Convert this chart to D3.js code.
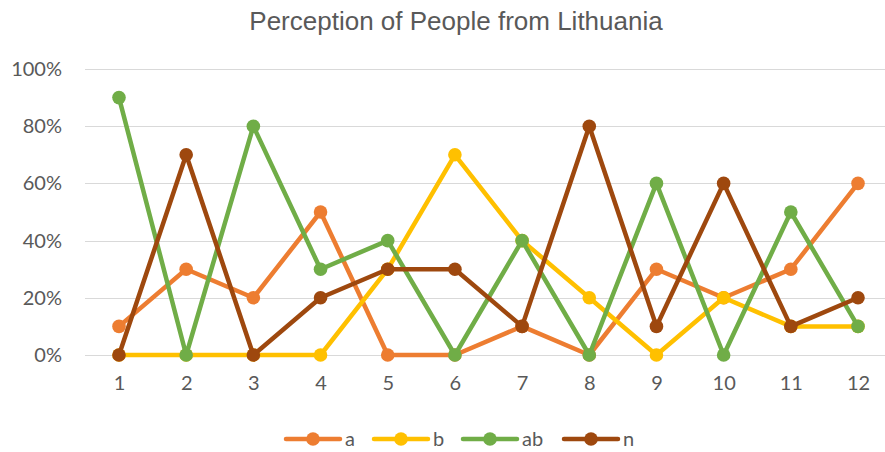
<!DOCTYPE html>
<html>
<head>
<meta charset="utf-8">
<script src="https://cdn.jsdelivr.net/npm/d3@7"></script>
<style>
  body { margin: 0; background: #fff; }
  svg { display: block; }
</style>
</head>
<body>
<div id="chart"></div>
<script>
const WIDTH = 885;
const HEIGHT = 452;

const categories = ['1', '2', '3', '4', '5', '6', '7', '8', '9', '10', '11', '12'];
const yTicks = [0, 0.2, 0.4, 0.6, 0.8, 1.0];

const seriesA  = [0.1, 0.3, 0.2, 0.5, 0, 0, 0.1, 0, 0.3, 0.2, 0.3, 0.6];
const seriesB  = [0, 0, 0, 0, 0.3, 0.7, 0.4, 0.2, 0, 0.2, 0.1, 0.1];
const seriesAB = [0.9, 0, 0.8, 0.3, 0.4, 0, 0.4, 0, 0.6, 0, 0.5, 0.1];
const seriesN  = [0, 0.7, 0, 0.2, 0.3, 0.3, 0.1, 0.8, 0.1, 0.6, 0.1, 0.2];

const seriesNames = ['a', 'b', 'ab', 'n'];
const seriesColors = ['#ED7D31', '#FFC000', '#70AD47', '#9E480E'];
const allSeries = [seriesA, seriesB, seriesAB, seriesN];

const LABEL_FONT = 'Lato, "Open Sans", sans-serif';

const svg = d3.select('#chart')
              .append('svg')
              .attr('width', WIDTH)
              .attr('height', HEIGHT);

// plot area (right edge runs off the picture a little, like the original)
const x = d3.scalePoint()
            .domain(categories)
            .range([85.4, 891.6])
            .padding(0.5);

const y = d3.scaleLinear()
            .domain([0, 1])
            .range([355, 69]);

// gridlines
svg.append('g')
   .selectAll('line')
   .data(yTicks)
   .enter()
   .append('line')
   .attr('x1', 85)
   .attr('x2', WIDTH)
   .attr('y1', d => Math.round(y(d)) + 0.5)
   .attr('y2', d => Math.round(y(d)) + 0.5)
   .attr('stroke', '#d9d9d9')
   .attr('stroke-width', 1);

// y axis labels
const yAxis = d3.axisLeft(y)
                .tickValues(yTicks)
                .tickFormat(d3.format('.0%'))
                .tickSize(0)
                .tickPadding(0);
svg.append('g')
   .attr('transform', 'translate(62, 0)')
   .call(yAxis)
   .call(g => g.select('.domain').remove())
   .call(g => g.selectAll('text')
               .attr('fill', '#595959')
               .style('font-family', LABEL_FONT)
               .style('font-size', '20px'));

// x axis labels
const xAxis = d3.axisBottom(x).tickSize(0).tickPadding(0);
svg.append('g')
   .attr('transform', 'translate(0, 376)')
   .call(xAxis)
   .call(g => g.select('.domain').remove())
   .call(g => g.selectAll('text')
               .attr('fill', '#595959')
               .style('font-family', LABEL_FONT)
               .style('font-size', '20px'));

// lines and markers
const line = d3.line()
               .x((d, i) => x(categories[i]))
               .y(d => y(d));

allSeries.forEach((values, s) => {
  const g = svg.append('g');
  g.append('path')
   .datum(values)
   .attr('d', line)
   .attr('fill', 'none')
   .attr('stroke', seriesColors[s])
   .attr('stroke-width', 4.5)
   .attr('stroke-linejoin', 'round')
   .attr('stroke-linecap', 'round');
  g.selectAll('circle')
   .data(values)
   .enter()
   .append('circle')
   .attr('cx', (d, i) => x(categories[i]))
   .attr('cy', d => y(d))
   .attr('r', 6.8)
   .attr('fill', seriesColors[s]);
});

// title (original chart was a bit wider, so its centre sits right of ours)
svg.append('text')
   .attr('x', 456)
   .attr('y', 30)
   .attr('text-anchor', 'middle')
   .attr('fill', '#595959')
   .style('font-family', '"Liberation Sans", Arial, sans-serif')
   .style('font-size', '26px')
   .text('Perception of People from Lithuania');

// legend
const legendX = [286, 374, 463, 564];
const legend = svg.append('g');
seriesNames.forEach((name, i) => {
  const lx = legendX[i];
  legend.append('line')
        .attr('x1', lx).attr('x2', lx + 54)
        .attr('y1', 439).attr('y2', 439)
        .attr('stroke', seriesColors[i])
        .attr('stroke-width', 4.5)
        .attr('stroke-linecap', 'round');
  legend.append('circle')
        .attr('cx', lx + 27).attr('cy', 439)
        .attr('r', 6.8)
        .attr('fill', seriesColors[i]);
  legend.append('text')
        .attr('x', lx + 59)
        .attr('y', 446)
        .attr('fill', '#595959')
        .style('font-family', LABEL_FONT)
        .style('font-size', '20px')
        .text(name);
});
</script>
</body>
</html>
